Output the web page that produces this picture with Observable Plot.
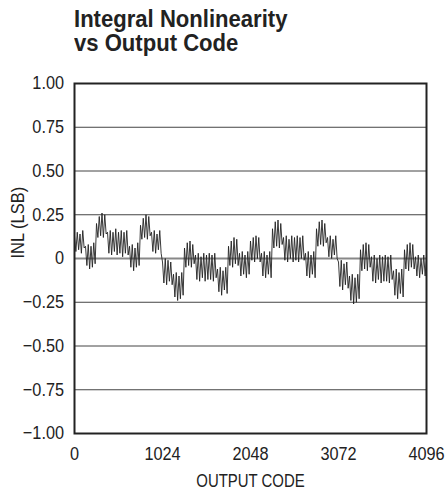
<!DOCTYPE html>
<html>
<head>
<meta charset="utf-8">
<script src="https://cdn.jsdelivr.net/npm/d3@7"></script>
<script src="https://cdn.jsdelivr.net/npm/@observablehq/plot@0.6"></script>
<style>
  html, body { margin: 0; padding: 0; background: #fff; }
  #wrap { position: relative; width: 445px; height: 491px; overflow: hidden; }
  .tline {
    position: absolute; left: 74px;
    font-family: "Liberation Sans Narrow", "Arial Narrow", "Liberation Sans", sans-serif;
    font-weight: bold; font-size: 23px; line-height: 20px; height: 20px; color: #222;
    transform: scaleX(0.96); transform-origin: 0 0; white-space: nowrap;
  }
</style>
</head>
<body>
<div id="wrap">
  <div id="chart"></div>
</div>
<script>
// ---- data ----
const titleLines = ["Integral Nonlinearity", "vs Output Code"];
const xLabel = "OUTPUT CODE";
const yLabel = "INL (LSB)";
const xTicks = [0, 1024, 2048, 3072, 4096];
const xTickLabels = ["0", "1024", "2048", "3072", "4096"];
const yTicks = [1, 0.75, 0.5, 0.25, 0, -0.25, -0.5, -0.75, -1];
const yTickLabels = ["1.00", "0.75", "0.50", "0.25", "0", "\u22120.25", "\u22120.50", "\u22120.75", "\u22121.00"];
const codeStep = 16; // one sample every 16 codes
// INL (LSB) sampled every 16 codes, 0 .. 4096
const inlValues = [
  0.13, 0.04, 0.15, 0.05, 0.14, 0.03, 0.16, 0.06,
  0.07, -0.04, 0.08, -0.06, 0.07, -0.05, 0.09, -0.03,
  0.20, 0.12, 0.24, 0.13, 0.26, 0.12, 0.25, 0.14,
  0.15, 0.03, 0.16, 0.02, 0.15, 0.04, 0.17, 0.02,
  0.15, 0.03, 0.16, 0.01, 0.15, 0.03, 0.16, 0.02,
  0.07, -0.05, 0.08, -0.07, 0.06, -0.05, 0.09, -0.04,
  0.19, 0.11, 0.23, 0.12, 0.25, 0.11, 0.24, 0.13,
  0.15, 0.04, 0.16, 0.03, 0.14, 0.05, 0.16, 0.03,
  -0.02, -0.14, 0.00, -0.15, -0.01, -0.13, -0.02, -0.15,
  -0.09, -0.22, -0.08, -0.24, -0.10, -0.23, -0.08, -0.21,
  0.06, -0.05, 0.09, -0.04, 0.10, -0.05, 0.08, -0.03,
  0.02, -0.12, 0.03, -0.13, 0.01, -0.11, 0.03, -0.13,
  0.02, -0.12, 0.03, -0.12, 0.02, -0.13, 0.03, -0.11,
  -0.06, -0.19, -0.05, -0.21, -0.07, -0.18, -0.05, -0.20,
  0.07, -0.04, 0.10, -0.05, 0.12, -0.03, 0.11, -0.04,
  0.03, -0.10, 0.04, -0.09, 0.02, -0.11, 0.04, -0.09,
  0.10, -0.01, 0.12, -0.02, 0.13, 0.00, 0.12, -0.02,
  0.03, -0.10, 0.04, -0.11, 0.02, -0.09, 0.04, -0.11,
  0.17, 0.06, 0.21, 0.07, 0.22, 0.06, 0.20, 0.08,
  0.12, -0.01, 0.13, -0.02, 0.11, 0.00, 0.13, -0.02,
  0.12, -0.01, 0.13, -0.02, 0.12, 0.00, 0.13, -0.01,
  0.03, -0.10, 0.04, -0.11, 0.02, -0.09, 0.04, -0.11,
  0.17, 0.07, 0.21, 0.08, 0.22, 0.07, 0.20, 0.09,
  0.12, 0.01, 0.13, 0.00, 0.11, 0.02, 0.13, 0.00,
  -0.02, -0.16, -0.01, -0.18, -0.03, -0.15, -0.02, -0.17,
  -0.10, -0.24, -0.09, -0.26, -0.11, -0.25, -0.09, -0.23,
  0.05, -0.07, 0.08, -0.06, 0.09, -0.07, 0.08, -0.05,
  0.01, -0.13, 0.02, -0.14, 0.00, -0.12, 0.02, -0.14,
  0.01, -0.13, 0.02, -0.13, 0.01, -0.14, 0.02, -0.12,
  -0.07, -0.21, -0.06, -0.23, -0.08, -0.20, -0.06, -0.22,
  0.05, -0.06, 0.08, -0.07, 0.09, -0.05, 0.08, -0.06,
  0.01, -0.10, 0.02, -0.11, 0.00, -0.09, 0.02, -0.10,
  0.01
];
const gridValues = [1, 0.75, 0.5, 0.25, -0.25, -0.5, -0.75, -1];
const zeroLine = [0];

// ---- build ----
const data = inlValues.map((v, i) => ({code: i * codeStep, inl: v}));
const font = "'Liberation Sans Narrow', 'Arial Narrow', 'Liberation Sans', sans-serif";

const chart = Plot.plot({
  width: 445,
  height: 491,
  marginLeft: 74,
  marginRight: 19,
  marginTop: 83,
  marginBottom: 58,
  style: {fontFamily: font, fontSize: "18.5px", color: "#222", background: "#fff", overflow: "visible"},
  x: {domain: [0, 4096]},
  y: {domain: [-1, 1]},
  marks: [
    Plot.ruleY(gridValues, {stroke: "#444", strokeWidth: 1}),
    Plot.ruleY(zeroLine, {stroke: "#888", strokeWidth: 2}),
    Plot.line(data, {x: "code", y: "inl", stroke: "#222", strokeWidth: 0.9}),
    Plot.frame({stroke: "#222", strokeWidth: 2}),
    Plot.axisY({ticks: yTicks, tickFormat: (d) => yTickLabels[yTicks.indexOf(d)], tickSize: 0, tickPadding: 10.5, label: null, fontSize: 18.5}),
    Plot.axisX({ticks: xTicks, tickFormat: (d) => xTickLabels[xTicks.indexOf(d)], tickSize: 0, tickPadding: 13, label: null, fontSize: 18.5}),
    Plot.text([yLabel], {frameAnchor: "left", dx: -56, rotate: -90, fontSize: 18.5, fill: "#222"}),
    Plot.text([xLabel], {frameAnchor: "bottom", dy: 53, lineAnchor: "bottom", fontSize: 18, fill: "#222"})
  ]
});

// narrow the lettering (condensed face look) around each text's own anchor
chart.querySelectorAll("text").forEach((t) => {
  const s = t.textContent === yLabel ? 0.89 : t.textContent === xLabel ? 0.83 : 0.88;
  t.setAttribute("transform", (t.getAttribute("transform") || "") + ` scale(${s},1)`);
});
const wrap = document.getElementById("wrap");
document.getElementById("chart").appendChild(chart);

// two-line title above the plot frame
const titleTops = [9, 32.5];
titleLines.forEach((line, i) => {
  const d = document.createElement("div");
  d.className = "tline";
  d.style.top = titleTops[i] + "px";
  d.textContent = line;
  wrap.appendChild(d);
});
</script>
</body>
</html>
